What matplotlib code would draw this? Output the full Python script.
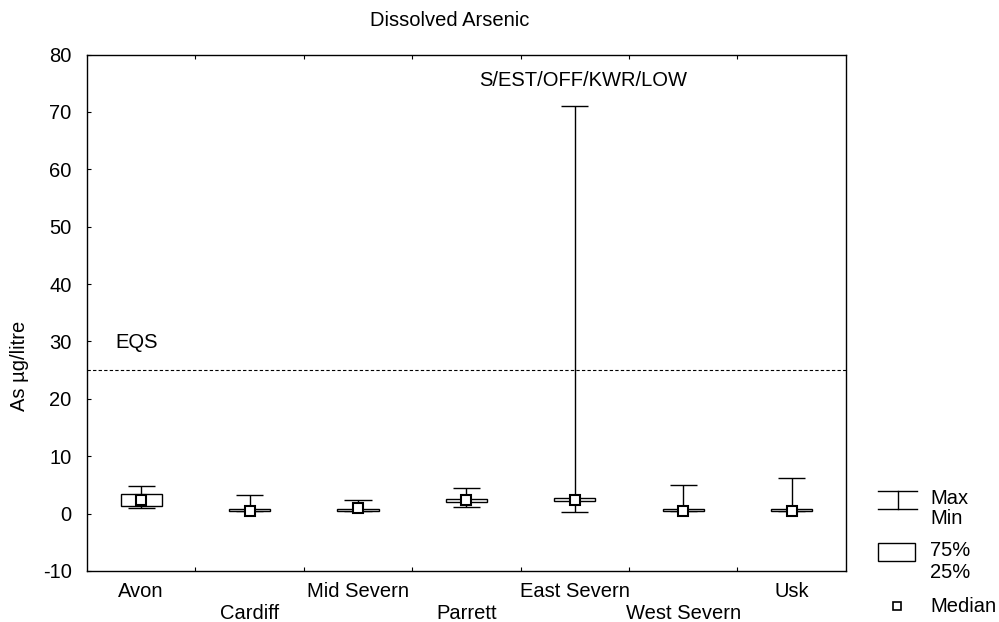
import matplotlib
matplotlib.use("Agg")
import matplotlib.pyplot as plt
from matplotlib.patches import Rectangle
from matplotlib.lines import Line2D
import numpy as np

plt.rcParams['font.family'] = ['Liberation Sans', 'DejaVu Sans']

sites = ["Avon", "Cardiff", "Mid Severn", "Parrett", "East Severn", "West Severn", "Usk"]
vmax = [4.75, 3.26, 2.4, 4.4, 71.0, 4.93, 6.15]
q75 = [3.4, 0.87, 0.87, 2.5, 2.74, 0.87, 0.87]
median = [2.4, 0.4, 0.92, 2.3, 2.44, 0.4, 0.4]
q25 = [1.27, 0.45, 0.47, 2.1, 2.2, 0.47, 0.47]
vmin = [0.92, 0.4, 0.5, 1.17, 0.23, 0.4, 0.4]
eqs = 25
yticks = [-10, 0, 10, 20, 30, 40, 50, 60, 70, 80]

FS = 14.5
fig = plt.figure(figsize=(9.99, 6.22), dpi=100)
ax = fig.add_axes([87/999, 1-571/622, (845.7-87)/999, (571-54.5)/622])

x = np.arange(len(sites))
bw = 0.38
cw = 0.25
ax.vlines(x, vmin, vmax, color='black', lw=1.0, zorder=2)
ax.hlines(vmax, x - cw/2, x + cw/2, color='black', lw=1.0, zorder=2)
ax.hlines(vmin, x - cw/2, x + cw/2, color='black', lw=1.0, zorder=2)
for xi, lo, hi in zip(x, q25, q75):
    ax.add_patch(Rectangle((xi - bw/2, lo), bw, hi - lo, facecolor='white',
                           edgecolor='black', lw=1.0, zorder=3))
ax.plot(x, median, 's', ms=7.5, mfc='white', mec='black', mew=1.5, zorder=4, ls='none')

ax.axhline(eqs, color='black', lw=0.8, ls=(0, (3, 2)), zorder=1)
ax.text(-0.24, 28.2, "EQS", fontsize=FS, ha='left', va='bottom')
ax.text(4.08, 75.4, "S/EST/OFF/KWR/LOW", fontsize=FS, ha='center', va='center')

ax.set_xlim(-0.5, len(sites) - 0.5)
ax.set_ylim(-10, 80)
ax.set_yticks(yticks)
ax.set_yticklabels([str(t) for t in yticks], fontsize=FS)
ax.tick_params(axis='y', direction='in', length=3, pad=11)

bounds = np.arange(0.5, len(sites) - 0.5, 1.0)
ax.set_xticks(bounds)
ax.set_xticklabels([])
ax.tick_params(axis='x', direction='in', length=3, top=True, bottom=True)
for xi, s in zip(x, sites):
    yoff = -0.040 if xi % 2 == 0 else -0.083
    ax.text(xi, yoff, s, transform=ax.get_xaxis_transform(), ha='center',
            va='center', fontsize=FS)

for sp in ax.spines.values():
    sp.set_linewidth(1.0)

fig.text(20/999, 1-366/622, "As µg/litre", rotation=90, ha='center', va='center', fontsize=FS)
fig.text(450/999, 1-20/622, "Dissolved Arsenic", ha='center', va='center', fontsize=FS)

# legend
def fx(px):
    return px/999
def fy(py):
    return 1-py/622
fig.add_artist(Line2D([fx(878), fx(917)], [fy(491), fy(491)], color='black', lw=1.0, transform=fig.transFigure))
fig.add_artist(Line2D([fx(878), fx(917)], [fy(509), fy(509)], color='black', lw=1.0, transform=fig.transFigure))
fig.add_artist(Line2D([fx(897.5), fx(897.5)], [fy(491), fy(509)], color='black', lw=1.0, transform=fig.transFigure))
fig.add_artist(Rectangle((fx(878), fy(561)), fx(915)-fx(878), fy(543)-fy(561), facecolor='white',
                         edgecolor='black', lw=1.0, transform=fig.transFigure))
fig.add_artist(Line2D([fx(897)], [fy(606)], marker='s', ms=6, mfc='white', mec='black', mew=1.2,
                      ls='none', transform=fig.transFigure))
for label, py in [("Max", 498), ("Min", 519), ("75%", 551), ("25%", 573), ("Median", 606)]:
    fig.text(fx(930), fy(py), label, ha='left', va='center', fontsize=FS)

fig.savefig("out.png", dpi=100)
